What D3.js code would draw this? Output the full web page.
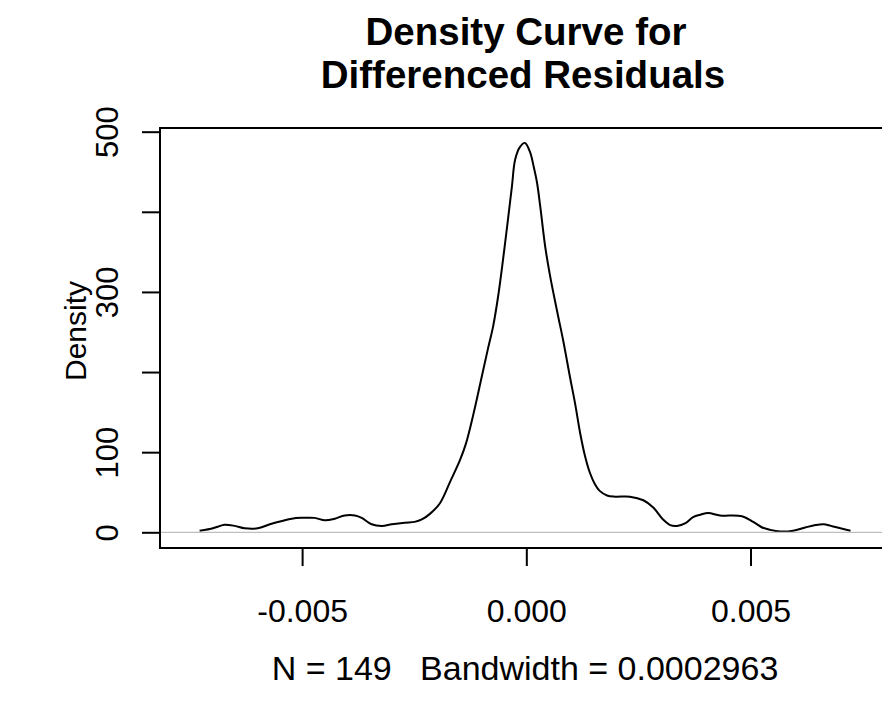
<!DOCTYPE html>
<html><head><meta charset="utf-8">
<script src="https://cdn.jsdelivr.net/npm/d3@7"></script>
<style>body{margin:0;background:#fff}svg{display:block}</style>
</head><body><svg id="c" width="882" height="703"></svg>
<script>
// Differenced residual values (x) and estimated density (y)
const residual = [-0.007286,-0.00706,-0.00688,-0.00673,-0.00650,-0.00628,-0.00599,-0.00572,-0.00545,-0.00523,
  -0.00501,-0.00472,-0.00449,-0.00427,-0.00405,-0.00382,-0.00367,-0.00345,-0.00322,-0.00300,
  -0.00271,-0.00249,-0.00233,-0.00215,-0.00193,-0.00170,-0.00148,-0.00135,-0.00119,-0.00101,
  -0.00086,-0.00074,-0.00063,-0.00052,-0.00041,-0.00032,-0.00025,-0.00014,-0.00003,0.00008,
  0.00017,0.00024,0.00031,0.00042,0.00053,0.00069,0.00082,0.00098,0.00109,0.00120,
  0.00131,0.00142,0.00153,0.00163,0.00180,0.00198,0.00231,0.00261,0.00283,0.00305,
  0.00321,0.00336,0.00354,0.00372,0.00388,0.00406,0.00432,0.00481,0.00506,0.00526,
  0.00544,0.00566,0.00595,0.00622,0.00645,0.00663,0.00679,0.00694,0.00723];
const density = [2,4,7,9.5,8,5,5,10,14,17,
  18,18,15,17,21,21,18,10,8,10,
  12,13,16,23,36,63,90,110,145,190,
  228,257,294,340,390,432,465,481,486,475,
  455,436,407,357,320,275,240,192,160,124,
  95,74,60,52,46,44.5,44.5,40,31,16,
  9,8,11,19,22,24,21,20,13,6,
  3,1,2,6,9,10,8,6,2];

const title1 = "Density Curve for";
const title2 = "Differenced Residuals";
const yLabel = "Density";
const subLabel = "N = 149   Bandwidth = 0.0002963";
const xTicks = [-0.005, 0, 0.005];
const xTickLabels = ["-0.005", "0.000", "0.005"];
const yTicks = [0, 100, 200, 300, 400, 500];
const yTickLabels = ["0", "100", "", "300", "", "500"];

const svg = d3.select("#c");
const font = "'Liberation Sans', Arial, sans-serif";
const L = 160, R = 882, T = 128, B = 548;

const x = d3.scaleLinear().domain([-0.008169, 0.007932]).range([L, R]);
const y = d3.scaleLinear().domain([-19.6, 504.6]).range([B, T]);

const line = d3.line().x((d,i)=>x(residual[i])).y(d=>y(d)).curve(d3.curveCatmullRom.alpha(0.5));
svg.append("path").attr("d", line(density)).attr("fill","none")
  .attr("stroke","#000").attr("stroke-width",2).attr("stroke-linejoin","round");
// zero line (drawn after the curve, as R does)
svg.append("line").attr("x1",L).attr("x2",R).attr("y1",y(0)).attr("y2",y(0))
  .attr("stroke","#bebebe").attr("stroke-width",1.2);

// box (right edge lies beyond the window)
svg.append("path").attr("d",`M${R+5},${T}H${L}V${B}H${R+5}`).attr("fill","none")
  .attr("stroke","#000").attr("stroke-width",2);

// x axis
const xa = svg.append("g").attr("transform",`translate(0,${B})`)
  .call(d3.axisBottom(x).tickValues(xTicks).tickSize(18).tickFormat((d,i)=>xTickLabels[i]));
xa.select(".domain").remove();
xa.selectAll("line").attr("stroke","#000").attr("stroke-width",2);
xa.selectAll("text").attr("font-family",font).attr("font-size",32).attr("fill","#000")
  .attr("dy",null).attr("y",74);

// y axis
const ya = svg.append("g").attr("transform",`translate(${L},0)`)
  .call(d3.axisLeft(y).tickValues(yTicks).tickSize(18).tickFormat((d,i)=>yTickLabels[i]));
ya.select(".domain").remove();
ya.selectAll("line").attr("stroke","#000").attr("stroke-width",2);
ya.selectAll("text").attr("font-family",font).attr("font-size",31).attr("fill","#000")
  .attr("x",null).attr("dy",null).attr("text-anchor","middle")
  .attr("transform","translate(-42,0) rotate(-90)");

// titles
svg.append("text").attr("x",526).attr("y",45).attr("text-anchor","middle")
  .attr("font-family",font).attr("font-weight","bold").attr("font-size",38.5).text(title1);
svg.append("text").attr("x",523).attr("y",88).attr("text-anchor","middle")
  .attr("font-family",font).attr("font-weight","bold").attr("font-size",38.5).text(title2);
svg.append("text").attr("transform",`translate(86,331) rotate(-90)`).attr("text-anchor","middle")
  .attr("font-family",font).attr("font-size",30).text(yLabel);
svg.append("text").attr("x",525).attr("y",680).attr("text-anchor","middle")
  .style("white-space","pre")
  .attr("font-family",font).attr("font-size",34).text(subLabel);
</script></body></html>
